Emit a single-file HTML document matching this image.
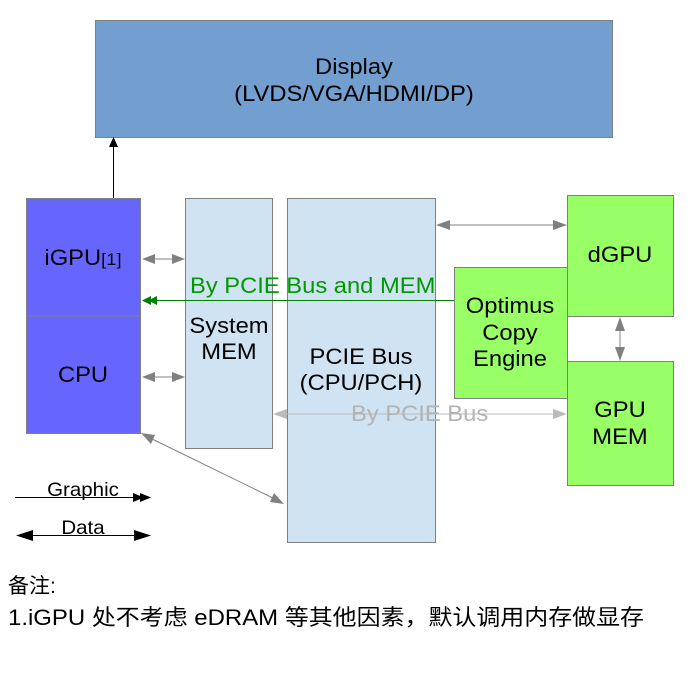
<!DOCTYPE html>
<html><head><meta charset="utf-8"><style>
html,body{margin:0;padding:0;background:#fff;}
svg{display:block;}
text{font-family:"Liberation Sans","Noto Sans CJK SC",sans-serif;}
.c{transform-box:fill-box;transform-origin:center;transform:scaleX(1.08);}
.l{transform-box:fill-box;transform-origin:left;transform:scaleX(1.08);}
</style></head><body>
<svg width="694" height="685" viewBox="0 0 694 685" xmlns="http://www.w3.org/2000/svg">
<rect x="0" y="0" width="694" height="685" fill="#fff"/>
<!-- Display -->
<rect x="95.5" y="20.5" width="517" height="117" fill="#729fcf" stroke="#808080"/>
<text class="c" x="354" y="74" font-size="22" text-anchor="middle" fill="#000">Display</text>
<text class="c" x="354" y="101" font-size="22" text-anchor="middle" fill="#000">(LVDS/VGA/HDMI/DP)</text>
<!-- iGPU/CPU -->
<rect x="26.5" y="198.5" width="114" height="235" fill="#6666ff" stroke="#808080"/>
<line x1="26.5" y1="316" x2="140.5" y2="316" stroke="#808080"/>
<text class="c" x="83" y="265" font-size="22" text-anchor="middle">iGPU<tspan font-size="17">[1]</tspan></text>
<text class="c" x="83" y="382" font-size="22" text-anchor="middle">CPU</text>
<!-- System MEM -->
<rect x="185.5" y="198.5" width="87" height="250" fill="#cfe3f2" stroke="#808080"/>
<text class="c" x="229" y="333" font-size="22" text-anchor="middle">System</text>
<text class="c" x="229" y="359" font-size="22" text-anchor="middle">MEM</text>
<!-- PCIE Bus -->
<rect x="287.5" y="198.5" width="148" height="344" fill="#cfe3f2" stroke="#808080"/>
<text class="c" x="361" y="364" font-size="22" text-anchor="middle">PCIE Bus</text>
<text class="c" x="361" y="390" font-size="22" text-anchor="middle">(CPU/PCH)</text>
<!-- dGPU -->
<rect x="567.5" y="195.5" width="106" height="121" fill="#99ff66" stroke="#808080"/>
<text class="c" x="620" y="262" font-size="22" text-anchor="middle">dGPU</text>
<!-- Optimus -->
<rect x="454.5" y="267.5" width="113" height="131" fill="#99ff66" stroke="#808080"/>
<text class="c" x="510" y="313" font-size="22" text-anchor="middle">Optimus</text>
<text class="c" x="510" y="340" font-size="22" text-anchor="middle">Copy</text>
<text class="c" x="510" y="366" font-size="22" text-anchor="middle">Engine</text>
<!-- GPU MEM -->
<rect x="567.5" y="361.5" width="106" height="124" fill="#99ff66" stroke="#808080"/>
<text class="c" x="620" y="417" font-size="22" text-anchor="middle">GPU</text>
<text class="c" x="620" y="444" font-size="22" text-anchor="middle">MEM</text>

<!-- Display arrow -->
<line x1="113.5" y1="198" x2="113.5" y2="145" stroke="#000" stroke-width="1"/>
<polygon points="113.5,137 109,147 118,147" fill="#000"/>

<g fill="#808080" stroke="#808080">
<line x1="150" y1="259" x2="176" y2="259"/>
<polygon points="142,259 155,254 155,264" stroke="none"/>
<polygon points="185,259 172,254 172,264" stroke="none"/>
<line x1="150" y1="377" x2="176" y2="377"/>
<polygon points="142,377 155,372 155,382" stroke="none"/>
<polygon points="185,377 172,372 172,382" stroke="none"/>
<line x1="445" y1="225" x2="558" y2="225"/>
<polygon points="436,225 450,220 450,230" stroke="none"/>
<polygon points="567,225 553,220 553,230" stroke="none"/>
<line x1="620" y1="326" x2="620" y2="352"/>
<polygon points="620,317 615,331 625,331" stroke="none"/>
<polygon points="620,361 615,347 625,347" stroke="none"/>
<line x1="148" y1="437" x2="277" y2="500"/>
<polygon points="141,433 155,435 151,444" stroke="none"/>
<polygon points="284,504 270,502 274,493" stroke="none"/>
</g>

<g fill="#bbbbbb" stroke="#bbbbbb">
<line x1="281" y1="414" x2="558" y2="414"/>
<polygon points="273,414 287,409 287,419" stroke="none"/>
<polygon points="567,414 553,409 553,419" stroke="none"/>
</g>
<text class="l" x="351" y="421" font-size="22" fill="#b3b3b3">By PCIE Bus</text>

<line x1="150" y1="300.5" x2="454" y2="300.5" stroke="#007f00"/>
<polygon points="142,300.5 151,296 151,305" fill="#007f00"/>
<polygon points="148,300.5 157,296 157,305" fill="#007f00"/>
<text class="l" x="190" y="293" font-size="22" fill="#009900">By PCIE Bus and MEM</text>

<line x1="15" y1="497.5" x2="140" y2="497.5" stroke="#000"/>
<polygon points="144,497.5 133,493 133,502" fill="#000"/>
<polygon points="151,497.5 140,493 140,502" fill="#000"/>
<text class="c" x="83" y="496" font-size="19" text-anchor="middle">Graphic</text>
<line x1="25" y1="535.5" x2="140" y2="535.5" stroke="#000"/>
<polygon points="16,535.5 33,530 33,541" fill="#000"/>
<polygon points="151,535.5 134,530 134,541" fill="#000"/>
<text class="c" x="83" y="534" font-size="19" text-anchor="middle">Data</text>

<text x="8" y="593" font-size="21">备注:</text>
<text x="8" y="625" font-size="22" textLength="636" lengthAdjust="spacingAndGlyphs">1.iGPU 处不考虑 eDRAM 等其他因素，默认调用内存做显存</text>
</svg>
</body></html>
